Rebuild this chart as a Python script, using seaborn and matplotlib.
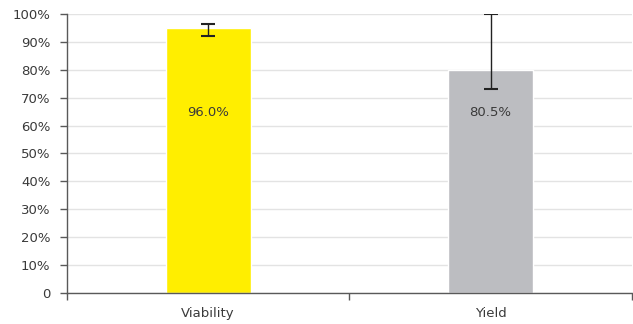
import pandas as pd
import seaborn as sns
import matplotlib.pyplot as plt
from matplotlib.ticker import FixedLocator

# Values
categories = ["Viability", "Yield"]
means = [95.0, 79.9]
err_low = [92.2, 73.0]
err_high = [96.5, 100.0]
labels = ["96.0%", "80.5%"]
label_pos = [64.8, 64.8]
colors = ["#ffee00", "#bcbdc1"]


def main():
    df = pd.DataFrame({"category": categories, "value": means})

    sns.set_style("white")
    plt.rcParams["font.family"] = ["DejaVu Sans"]

    fig = plt.figure(figsize=(6.33, 3.24), dpi=100)
    ax = fig.add_axes([0.1058, 0.0957, 0.8922, 0.8611])

    sns.barplot(data=df, x="category", y="value", hue="category", palette=colors,
                width=0.3, saturation=1, legend=False, ax=ax, zorder=2)

    lower = [m - lo for m, lo in zip(means, err_low)]
    upper = [hi - m for m, hi in zip(means, err_high)]
    ax.errorbar(range(len(categories)), means, yerr=[lower, upper], fmt="none",
                ecolor="#222222", elinewidth=1, capsize=5, capthick=1.5, zorder=3)

    for i, (txt, yp) in enumerate(zip(labels, label_pos)):
        ax.text(i, yp, txt, ha="center", va="center", fontsize=9.5, color="#3a3a3a", zorder=4)

    ax.set_xlim(-0.5, len(categories) - 0.5)
    ax.set_ylim(0, 100)
    ax.set_yticks(range(0, 101, 10))
    ax.set_yticklabels(["0"] + [f"{v}%" for v in range(10, 101, 10)])
    ax.xaxis.set_minor_locator(FixedLocator([-0.5, 0.5, 1.5]))
    ax.tick_params(axis="x", which="major", length=0, labelsize=9.5, colors="#3a3a3a", pad=10)
    ax.tick_params(axis="x", which="minor", length=5, width=1, color="#595959", bottom=True)
    ax.tick_params(axis="y", length=5, width=1, color="#595959", labelsize=9.5,
                   labelcolor="#3a3a3a", left=True, pad=7)

    ax.set_xlabel("")
    ax.set_ylabel("")
    ax.grid(axis="y", color="#e3e3e3", linewidth=1, zorder=0)
    ax.set_axisbelow(True)
    for side in ["top", "right"]:
        ax.spines[side].set_visible(False)
    for side in ["left", "bottom"]:
        ax.spines[side].set_color("#595959")
        ax.spines[side].set_linewidth(1)

    fig.savefig("out.png", dpi=100)


main()
